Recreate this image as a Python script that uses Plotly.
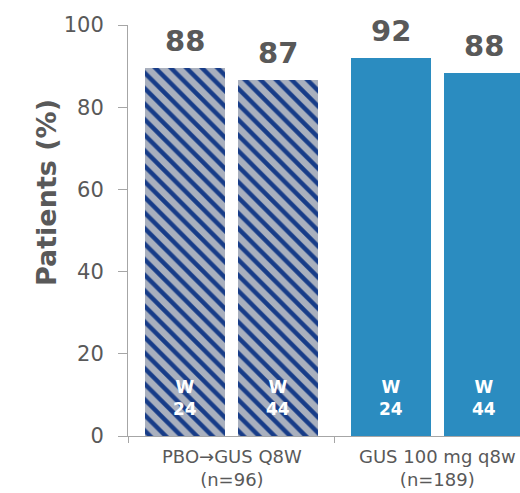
import plotly.graph_objects as go

# data
groups = ["PBO→GUS Q8W", "GUS 100 mg q8w"]
group_n = [96, 189]
weeks = ["24", "44"]
pbo_values = [89.5, 86.5]
pbo_labels = ["88", "87"]
gus_values = [92.0, 88.3]
gus_labels = ["92", "88"]
y_ticks = [0, 20, 40, 60, 80, 100]

GAP = 2.215  # distance between the first bars of the two groups
FONT = "DejaVu Sans"
GREY = "#595959"

def positions(g):
    return [g * GAP + i for i in range(len(weeks))]

fig = go.Figure()

fig.add_trace(go.Bar(
    x=positions(0), y=pbo_values, width=0.86,
    marker=dict(
        color="#A9B0BE",
        line=dict(width=0),
        pattern=dict(shape="\\", bgcolor="#A9B0BE", fgcolor="#173C88",
                     fgopacity=1, size=11, solidity=0.4),
    ),
    hoverinfo="skip",
))
fig.add_trace(go.Bar(
    x=positions(1), y=gus_values, width=0.86,
    marker=dict(color="#2B8CC0", line=dict(width=0)),
    hoverinfo="skip",
))

annotations = []
for g, (vals, labs) in enumerate([(pbo_values, pbo_labels), (gus_values, gus_labels)]):
    xs = positions(g)
    for x, v, lab, wk in zip(xs, vals, labs, weeks):
        # value on top of the bar
        annotations.append(dict(
            x=x, y=v, xref="x", yref="y", text="<b>%s</b>" % lab,
            showarrow=False, yanchor="bottom", yshift=8,
            font=dict(family=FONT, size=29, color=GREY),
        ))
        # week marker inside the bar
        annotations.append(dict(
            x=x, y=9.25, xref="x", yref="y", text="<b>W<br>%s</b>" % wk,
            showarrow=False, yanchor="middle",
            font=dict(family=FONT, size=17, color="white"),
        ))
    # group label under the axis
    annotations.append(dict(
        x=sum(xs) / len(xs), y=0, xref="x", yref="paper",
        text="%s<br>(n=%d)" % (groups[g], group_n[g]),
        showarrow=False, yanchor="top", yshift=-8,
        font=dict(family=FONT, size=18, color=GREY),
    ))

# y axis title
annotations.append(dict(
    x=(46 - 128) / 392.0, y=0.591, xref="x domain", yref="paper",
    xanchor="center", yanchor="middle",
    text="<b>Patients (%)</b>", textangle=-90, showarrow=False,
    font=dict(family=FONT, size=27, color=GREY),
))

layout = go.Layout(
    width=520, height=493,
    margin=dict(l=128, r=0, t=25, b=57),
    paper_bgcolor="white", plot_bgcolor="white",
    showlegend=False, bargap=0,
    xaxis=dict(
        range=[-0.613, 3.602], showgrid=False, zeroline=False,
        showline=True, linecolor="#A6A6A6", linewidth=1,
        tickvals=[-0.613, 1.61], ticks="outside", ticklen=6,
        tickcolor="#A6A6A6", showticklabels=False,
    ),
    yaxis=dict(
        range=[0, 100], tickvals=y_ticks, showgrid=False, zeroline=False,
        showline=True, linecolor="#A6A6A6", linewidth=1,
        ticks="outside", ticklen=9, tickcolor="#A6A6A6",
        ticklabelstandoff=10,
        tickfont=dict(family=FONT, size=21, color=GREY),
    ),
    annotations=annotations,
)
fig.update_layout(layout)

# drop the browser's default body margin so the figure sits at the corner
fig.write_html("out.html", config={"displayModeBar": False},
               post_script="document.body.style.margin='0';")
